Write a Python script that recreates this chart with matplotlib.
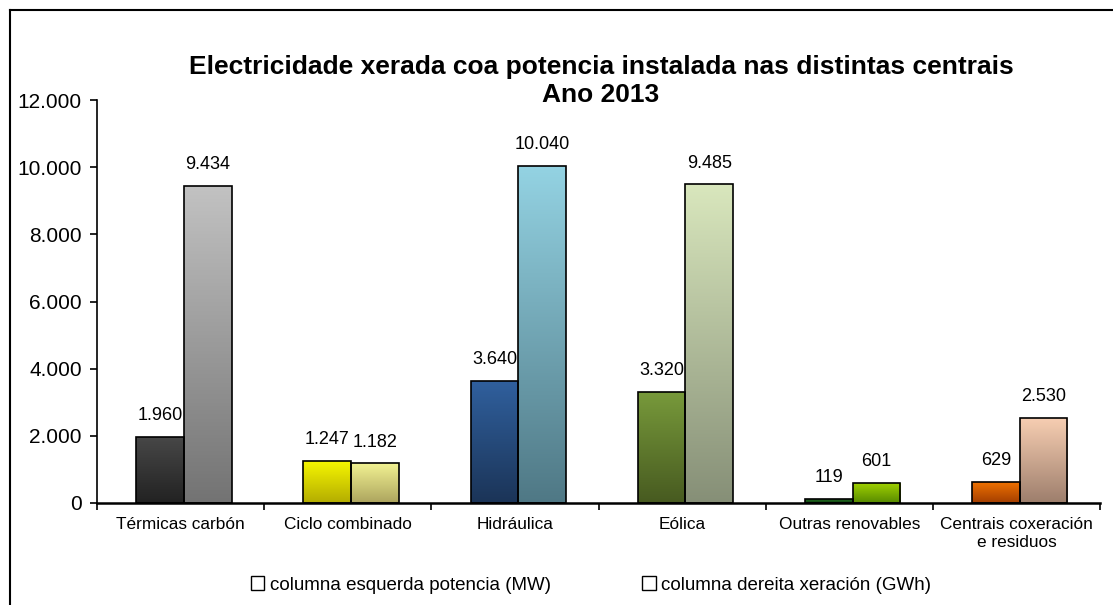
import numpy as np
import matplotlib
matplotlib.use('Agg')
import matplotlib.pyplot as plt
from matplotlib.colors import LinearSegmentedColormap
from matplotlib.patches import Patch
from matplotlib.lines import Line2D
from matplotlib.ticker import FuncFormatter

plt.rcParams['font.family'] = ['Liberation Sans', 'DejaVu Sans']

# data
categories = ['Térmicas carbón', 'Ciclo combinado', 'Hidráulica', 'Eólica',
              'Outras renovables', 'Centrais coxeración\ne residuos']
potencia = [1960, 1247, 3640, 3320, 119, 629]      # MW
xeracion = [9434, 1182, 10040, 9485, 601, 2530]    # GWh
legend_labels = ['columna esquerda potencia (MW)', 'columna dereita xeración (GWh)']

# gradient colours (top, bottom) for each bar
left_colors = [('#474747', '#222222'), ('#f6f600', '#b3ac00'), ('#30609e', '#1b3457'),
               ('#789a3b', '#475a20'), ('#247024', '#0f3f0f'), ('#f27300', '#a33e00')]
right_colors = [('#c2c2c2', '#737373'), ('#f2f292', '#aca45e'), ('#94d3e3', '#4f7885'),
                ('#d9e7bd', '#868f77'), ('#a3d400', '#578a00'), ('#f7ceb2', '#9d7e6c')]

fig = plt.figure(figsize=(11.13, 6.05), dpi=100)
ax = fig.add_axes([97 / 1113, 102 / 605, 1003 / 1113, 403 / 605])

x = np.arange(len(categories))
w = 0.285


def gradient_bars(xpos, vals, cols):
    bars = ax.bar(xpos, vals, w, facecolor='none', edgecolor='black', linewidth=1.2, zorder=3)
    for b, (top, bot) in zip(bars, cols):
        cmap = LinearSegmentedColormap.from_list('g', [bot, top])
        x0, y0 = b.get_x(), b.get_y()
        grad = np.linspace(0, 1, 256).reshape(-1, 1)
        im = ax.imshow(grad, cmap=cmap, origin='lower', aspect='auto',
                       extent=[x0, x0 + b.get_width(), y0, y0 + b.get_height()], zorder=2)
        im.set_clip_path(b)
    return bars


bl = gradient_bars(x - w / 2 + 0.02, potencia, left_colors)
br = gradient_bars(x + w / 2 + 0.02, xeracion, right_colors)

fmt = lambda v: f'{v:,.0f}'.replace(',', '.')
for bars, vals in ((bl, potencia), (br, xeracion)):
    for b, v in zip(bars, vals):
        ax.text(b.get_x() + b.get_width() / 2, v + 380, fmt(v),
                ha='center', va='bottom', fontsize=13)

ax.set_xlim(-0.5, len(categories) - 0.5)
ax.set_ylim(0, 12000)
ax.set_yticks(range(0, 12001, 2000))
ax.yaxis.set_major_formatter(FuncFormatter(lambda v, p: fmt(v)))
ax.tick_params(axis='y', labelsize=15, length=5, width=1.2, pad=6)

ax.set_xticks(x)
ax.set_xticklabels(categories, fontsize=12.4, linespacing=1.25)
ax.set_xticks(np.arange(-0.5, len(categories), 1), minor=True)
ax.tick_params(axis='x', which='major', length=0, pad=10)
ax.tick_params(axis='x', which='minor', length=5, width=1.2)

for s in ('top', 'right'):
    ax.spines[s].set_visible(False)
ax.spines['left'].set_linewidth(1.2)
ax.spines['bottom'].set_linewidth(1.8)
ax.spines['bottom'].set_zorder(4)

fig.text(0.540, 0.866, 'Electricidade xerada coa potencia instalada nas distintas centrais\nAno 2013',
         ha='center', va='center', fontsize=19, fontweight='bold', linespacing=1.25)

handles = [Patch(facecolor='white', edgecolor='black', linewidth=1.0) for _ in legend_labels]
fig.legend(handles, legend_labels, loc='center', bbox_to_anchor=(0.531, 0.033), ncol=2,
           frameon=False, fontsize=13.5, handlelength=0.7, handleheight=0.7,
           handletextpad=0.3, columnspacing=4.9)

# outer chart frame
fig.add_artist(Line2D([10 / 1113, 1.0], [1 - 10 / 605, 1 - 10 / 605], color='black', lw=1.5))
fig.add_artist(Line2D([10 / 1113, 10 / 1113], [0, 1 - 10 / 605], color='black', lw=1.5))

fig.savefig('out.png', dpi=100)
